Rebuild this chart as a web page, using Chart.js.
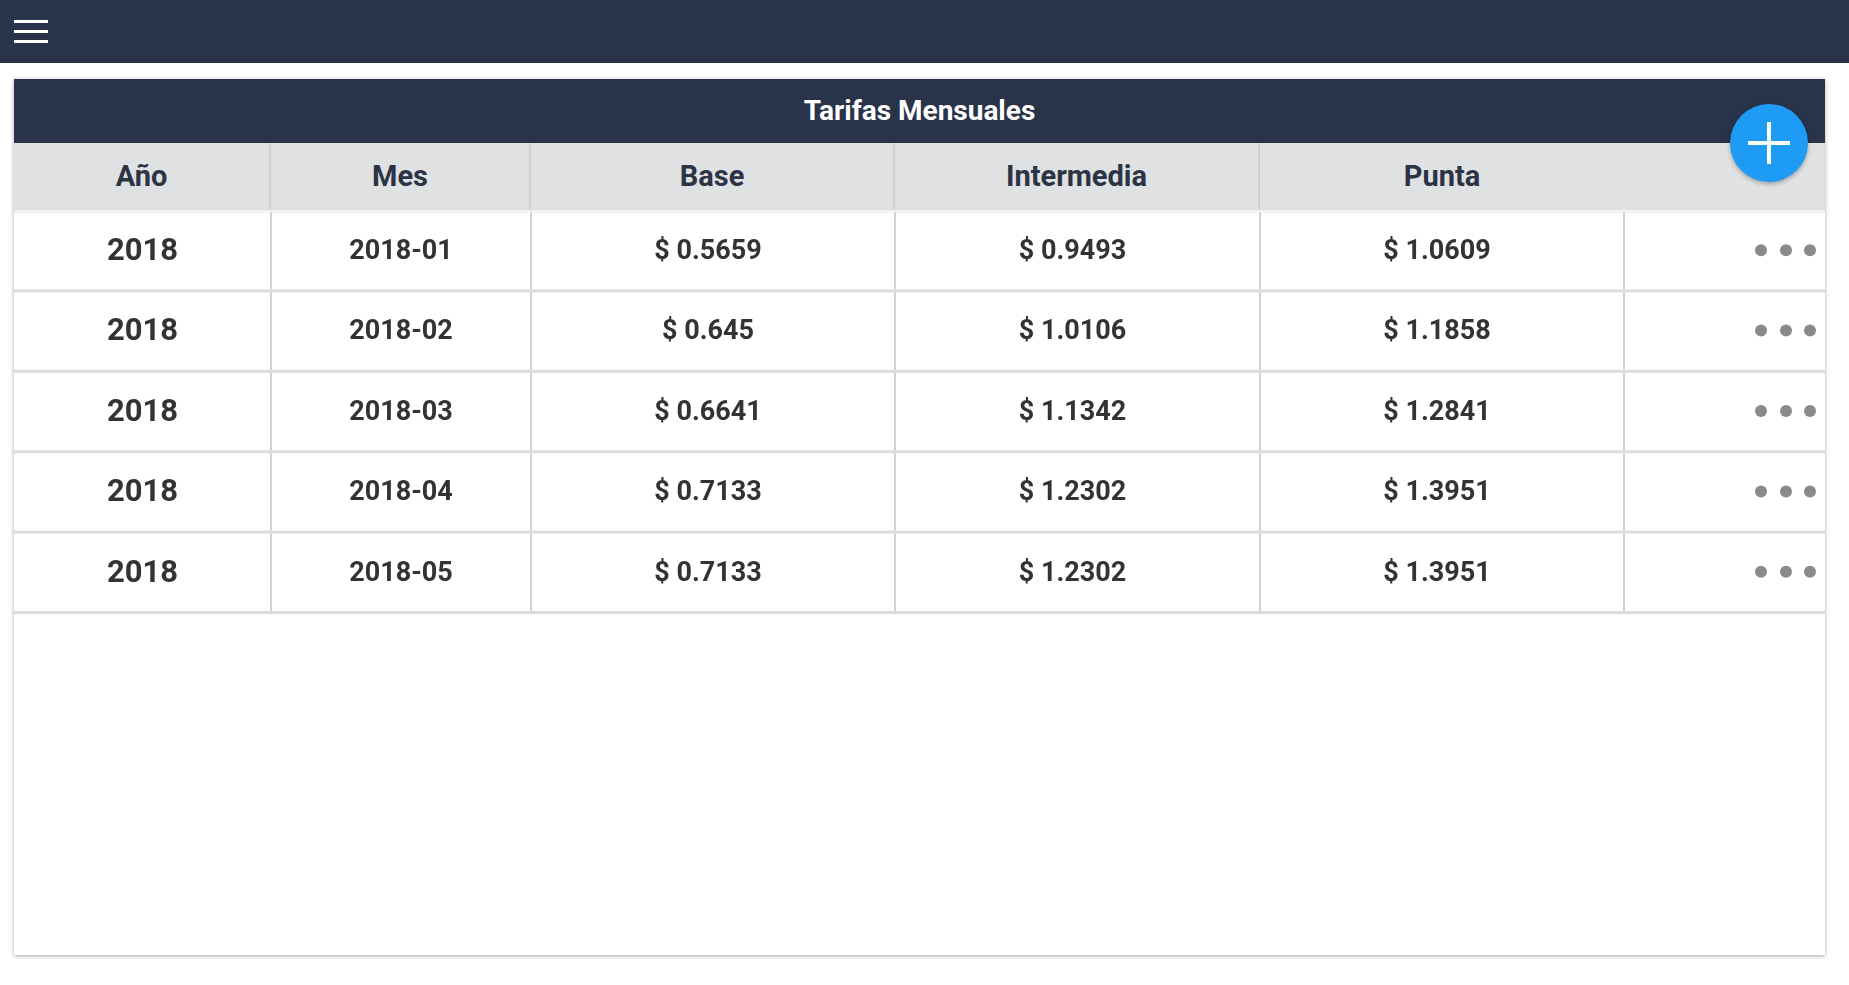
<!DOCTYPE html>
<html><head><meta charset="utf-8">
<script src="https://cdn.jsdelivr.net/npm/chart.js@4"></script>
<style>
body{margin:0;width:1849px;height:985px;background:#fff;font-family:Roboto,sans-serif;overflow:hidden;position:relative}
#nav{position:absolute;left:0;top:0;width:1849px;height:63px;background:#29334a}
.bar{position:absolute;left:14px;width:34px;height:3px;background:#fff}
#card{position:absolute;left:14px;top:79px;width:1811px;height:876px;background:#fff;box-shadow:0 1px 4px rgba(0,0,0,.35)}
#title{height:64px;background:#29334a;color:#fff;font-weight:bold;font-size:28px;text-align:center;line-height:64px}
#head{position:absolute;top:64px;left:0;width:1811px;height:67px;background:#e0e1e3;border-bottom:3px solid #f2f2f2}
.h{position:absolute;top:0;height:67px;line-height:67px;text-align:center;font-weight:bold;font-size:29px;color:#2b3445;border-right:2px solid #cfd0d2;box-sizing:border-box}
#plus{position:absolute;left:1730px;top:104px;width:78px;height:78px;border-radius:50%;background:#1e9bf5;box-shadow:0 2px 4px rgba(0,0,0,.3)}
#plus:before{content:"";position:absolute;left:18px;top:37px;width:42px;height:4px;background:#fff}
#plus:after{content:"";position:absolute;left:37px;top:18px;width:4px;height:42px;background:#fff}
#wrap{position:absolute;left:14px;top:212px;width:1811px;height:402px}
</style></head><body>
<div id="nav"><div class="bar" style="top:20px"></div><div class="bar" style="top:30px"></div><div class="bar" style="top:40px"></div></div>
<div id="card"><div id="title">Tarifas Mensuales</div>
<div id="head">
<div class="h" style="left:0;width:257px">Año</div>
<div class="h" style="left:257px;width:260px">Mes</div>
<div class="h" style="left:517px;width:364px">Base</div>
<div class="h" style="left:881px;width:365px">Intermedia</div>
<div class="h" style="left:1246px;width:364px;border-right:none">Punta</div>
</div></div>
<div id="plus"></div>
<div id="wrap"><canvas id="tbl"></canvas></div>
<script>
// table data
var years = ["2018", "2018", "2018", "2018", "2018"];
var months = ["2018-01", "2018-02", "2018-03", "2018-04", "2018-05"];
var base = ["0.5659", "0.645", "0.6641", "0.7133", "0.7133"];
var intermedia = ["0.9493", "1.0106", "1.1342", "1.2302", "1.2302"];
var punta = ["1.0609", "1.1858", "1.2841", "1.3951", "1.3951"];

// column edges in px (layout only)
var edges = [0, 257, 517, 881, 1246, 1610, 1811];

var tablePlugin = {
	id: "tablePlugin",
	afterDraw: function(chart){
		var ctx = chart.ctx, y = chart.scales.y, x = chart.scales.x;
		var cols = [years, months,
			base.map(function(v){ return "$ " + v; }),
			intermedia.map(function(v){ return "$ " + v; }),
			punta.map(function(v){ return "$ " + v; })];
		var step = y.getPixelForValue(1) - y.getPixelForValue(0);
		ctx.save();
		months.forEach(function(m, i){
			var cy = y.getPixelForValue(i);
			var bottom = cy + step / 2;
			ctx.fillStyle = "#dcdcdc";
			ctx.fillRect(0, bottom - 3, chart.width, 3);
			ctx.fillStyle = "#cfd0d2";
			for(var k = 1; k < edges.length - 1; k++){
				ctx.fillRect(x.getPixelForValue(edges[k]) - 1, cy - step / 2, 2, step - 3);
			}
			ctx.textAlign = "center";
			ctx.textBaseline = "middle";
			ctx.fillStyle = "#333";
			cols.forEach(function(col, c){
				ctx.font = (c == 0 ? "bold 31px" : "bold 27px") + " Roboto";
				var cx = (x.getPixelForValue(edges[c]) + x.getPixelForValue(edges[c + 1])) / 2;
				if(c > 1) cx -= 5;
				ctx.fillText(col[i], cx, cy);
			});
			ctx.fillStyle = "#8a8a8a";
			[1747, 1772, 1796].forEach(function(dx){
				ctx.beginPath();
				ctx.arc(x.getPixelForValue(dx), cy - 2, 6, 0, Math.PI * 2);
				ctx.fill();
			});
		});
		ctx.restore();
	}
};

new Chart(document.getElementById("tbl"), {
	type: "scatter",
	data: {
		datasets: [{
			data: months.map(function(m){ return {x: 0, y: m}; }),
			pointRadius: 0
		}]
	},
	options: {
		responsive: true,
		maintainAspectRatio: false,
		animation: false,
		layout: {padding: 0},
		plugins: {legend: {display: false}, tooltip: {enabled: false}},
		scales: {
			x: {type: "linear", min: 0, max: 1811, display: false},
			y: {type: "category", labels: months, offset: true, display: false}
		}
	},
	plugins: [tablePlugin]
});
</script>
</body></html>
